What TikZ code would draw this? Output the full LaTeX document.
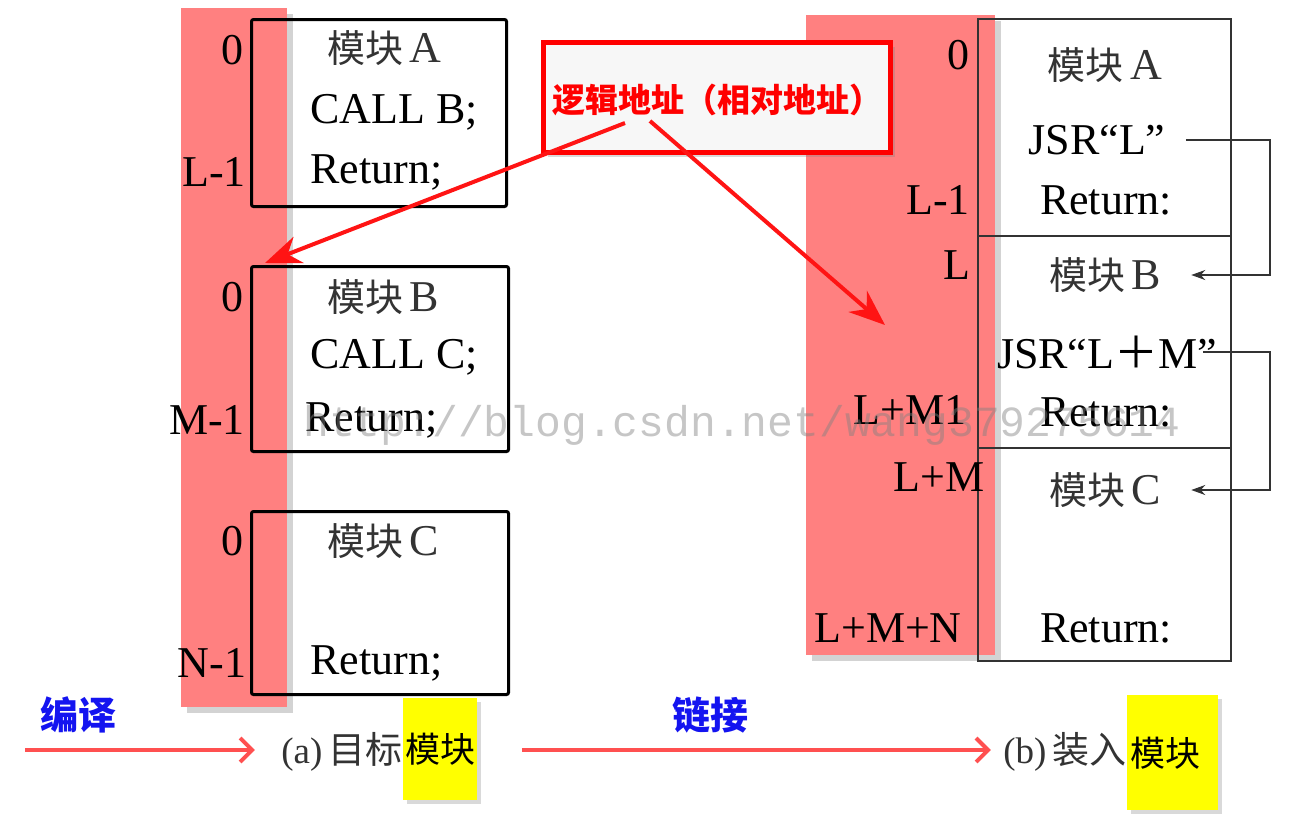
\documentclass[tikz,border=0pt]{standalone}
\usepackage{fontspec}
\setmainfont{Liberation Serif}
\newfontfamily\cjk{Noto Sans CJK SC}
\newfontfamily\wmfont{Liberation Mono}
\usetikzlibrary{arrows.meta,shadows,calc}
\definecolor{bandpink}{RGB}{255,128,128}
\definecolor{arrowred}{RGB}{255,20,20}
\definecolor{lightred}{RGB}{255,80,80}
\definecolor{labelblue}{RGB}{20,20,240}
\definecolor{hlyellow}{RGB}{255,255,0}
\tikzset{
  band/.style={fill=bandpink,draw=none,drop shadow={opacity=0.35,shadow xshift=3pt,shadow yshift=-3pt}},
  leftbox/.style={draw=black,line width=1.5pt,rounded corners=1pt,anchor=north west,inner sep=0pt},
  rightbox/.style={draw=black!80,line width=1pt,anchor=north west,inner sep=0pt},
  txt/.style={font=\fontsize{22}{24}\selectfont,inner sep=0pt},
  cjktxt/.style={font=\cjk\fontsize{19}{22}\selectfont,inner sep=0pt,text=black!80},
  redlabel/.style={draw=red,line width=2.5pt,fill=gray!6,inner sep=0pt,drop shadow={opacity=0.3,shadow xshift=2pt,shadow yshift=-2pt}},
  redarrow/.style={draw=arrowred,line width=2pt,-{Stealth[length=18pt,width=14pt]}},
  flowarrow/.style={draw=lightred,line width=2pt,-{Straight Barb[length=6pt,width=12pt]}},
  jump/.style={draw=black!80,line width=0.9pt,-{Stealth[length=7pt,width=5pt]}},
  hl/.style={fill=hlyellow,inner sep=0pt,drop shadow={opacity=0.3,shadow xshift=2pt,shadow yshift=-2pt}},
  bluetxt/.style={font=\cjk\bfseries\fontsize{19}{22}\selectfont,text=labelblue,inner sep=0pt},
  captxt/.style={font=\fontsize{18.5}{20}\selectfont,inner sep=0pt,text=black!80},
}
\begin{document}
\begin{tikzpicture}[x=0.5pt,y=-0.5pt]
\useasboundingbox (0,0) rectangle (1299,814);
% pink bands
\path[band] (181,8) rectangle (287,707);
\path[band] (806,15) rectangle (995,655);
% left boxes
\node[leftbox,minimum width=127.5pt,minimum height=93.5pt] (lA) at (250,18) {};
\node[leftbox,minimum width=128.5pt,minimum height=92.5pt] (lB) at (250,265) {};
\node[leftbox,minimum width=128.5pt,minimum height=91.5pt] (lC) at (250,510) {};
% right boxes
\node[rightbox,minimum width=126.5pt,minimum height=108.5pt] (rA) at (977,18) {};
\node[rightbox,minimum width=126.5pt,minimum height=106pt] (rB) at (977,235) {};
\node[rightbox,minimum width=126.5pt,minimum height=106.5pt] (rC) at (977,447) {};
% left box A texts
\node[txt] (lA0) at (232,50) {0};
\node[cjktxt,anchor=west] (lAt) at (327,48) {模块\,{\rmfamily\fontsize{22}{24}\selectfont A}};
\node[txt,anchor=west] (lAc) at (310,112) {CALL B;};
\node[txt,anchor=west] (lAr) at (310,172) {Return;};
\node[txt] (lAe) at (214,172) {L-1};
% left box B texts
\node[txt] (lB0) at (232,297) {0};
\node[cjktxt,anchor=west] (lBt) at (327,297) {模块\,{\rmfamily\fontsize{22}{24}\selectfont B}};
\node[txt,anchor=west] (lBc) at (310,357) {CALL C;};
\node[txt,anchor=west] (lBr) at (305,420) {Return;};
\node[txt] (lBe) at (207,420) {M-1};
% left box C texts
\node[txt] (lC0) at (232,541) {0};
\node[cjktxt,anchor=west] (lCt) at (327,541) {模块\,{\rmfamily\fontsize{22}{24}\selectfont C}};
\node[txt,anchor=west] (lCr) at (310,663) {Return;};
\node[txt] (lCe) at (212,663) {N-1};
% right box texts
\node[txt] (r0) at (958,55) {0};
\node[cjktxt] (rAt) at (1105,65) {模块\,{\rmfamily\fontsize{22}{24}\selectfont A}};
\node[txt] (jsrL) at (1097,140) {JSR“L”};
\node[txt] (rL1) at (938,200) {L-1};
\node[txt] (rAr) at (1106,200) {Return:};
\node[txt] (rL) at (957,265) {L};
\node[cjktxt] (rBt) at (1105,275) {模块\,{\rmfamily\fontsize{22}{24}\selectfont B}};
\node[txt] (jsrLM) at (1107,352) {JSR“L{\cjk\fontsize{22}{24}\selectfont ＋}M”};
\node[txt] (rLM1) at (910,410) {L+M1};
\node[txt] (rBr) at (1106,412) {Return:};
\node[txt] (rLM) at (939,477) {L+M};
\node[cjktxt] (rCt) at (1105,490) {模块\,{\rmfamily\fontsize{22}{24}\selectfont C}};
\node[txt] (rLMN) at (888,628) {L+M+N};
\node[txt] (rCr) at (1106,628) {Return:};
% jump connectors
\coordinate (rail) at (1270,0);
\coordinate (j1s) at ([xshift=10pt]jsrL.east);
\coordinate (j1e) at ([xshift=15pt]rBt.east);
\coordinate (j2s) at ([xshift=-7pt]jsrLM.east);
\coordinate (j2e) at ([xshift=15pt]rCt.east);
\draw[jump] (j1s) -- (j1s -| rail) |- (j1e);
\draw[jump] (j2s) -- (j2s -| rail) |- (j2e);
% red label
\node[redlabel,minimum width=173.5pt,minimum height=55pt,anchor=north west] (lbl) at (541,40) {};
\node[font=\cjk\bfseries\fontsize{16.5}{18}\selectfont,text=red,inner sep=0pt] (lbltxt) at (717,100) {逻辑地址（相对地址）};
\coordinate (toB) at (265,263);
\coordinate (toR) at (885,325);
\coordinate (fromL) at (625,123);
\coordinate (fromR) at (650,121);
\draw[redarrow] (fromL) -- (toB);
\draw[redarrow] (fromR) -- (toR);
% watermark
\node[font=\wmfont\fontsize{21.5}{22}\selectfont,text=gray,opacity=0.45,inner sep=0pt] (wm) at (742,425) {http://blog.csdn.net/wang379275614};
% bottom row
\node[bluetxt] (bianyi) at (78,715) {编译};
\coordinate (s1) at (25,750);
\node[captxt,anchor=east] (capA) at (403,752) {(a)\,{\cjk 目标}};
\draw[flowarrow] (s1) -- ([xshift=-13pt]capA.west |- s1);
\node[hl,minimum width=37pt,minimum height=51pt,anchor=north west] (hlA) at (403,698) {};
\node[font=\cjk\fontsize{17.5}{20}\selectfont,inner sep=0pt] (modA) at (hlA.center) {模块};
\node[bluetxt] (lianjie) at (710,715) {链接};
\node[captxt,anchor=east] (capB) at (1127,752) {(b)\,{\cjk 装入}};
\draw[flowarrow] ([xshift=22pt]hlA.east |- s1) -- ([xshift=-6pt]capB.west |- s1);
\node[hl,minimum width=45.5pt,minimum height=57.5pt,anchor=north west] (hlB) at (1127,695) {};
\node[font=\cjk\fontsize{17.5}{20}\selectfont,inner sep=0pt,anchor=west] (modB) at ([xshift=1.5pt]hlB.west) {模块};
\end{tikzpicture}
\end{document}
